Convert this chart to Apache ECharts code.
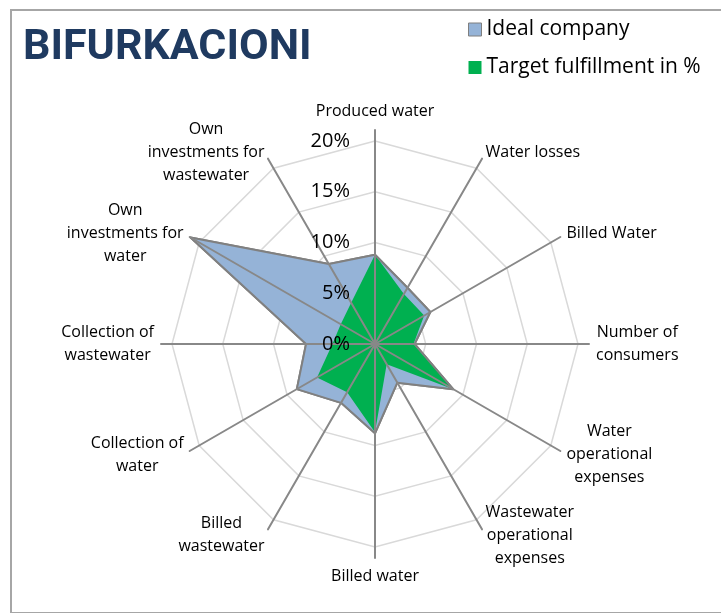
<!DOCTYPE html>
<html>
<head>
<meta charset="utf-8">
<title>BIFURKACIONI</title>
<script src="https://cdn.jsdelivr.net/npm/echarts@6/dist/echarts.min.js"></script>
<style>
    html, body { margin: 0; padding: 0; background: #fff; }
    #main { width: 721px; height: 613px; }
    /* chart area frame, as in the Excel export */
    #frame {
        position: absolute; left: 10px; top: 9px; width: 760px; height: 601px;
        border: 2px solid #a6a6a6; pointer-events: none;
    }
</style>
</head>
<body>
<div id="main"></div>
<div id="frame"></div>
<script>
// axes, clockwise from the top
var categories = ['Produced water', 'Water losses', 'Billed Water', 'Number of\nconsumers',
    'Water\noperational\nexpenses', 'Wastewater\noperational\nexpenses', 'Billed water',
    'Billed\nwastewater', 'Collection of\nwater', 'Collection of\nwastewater',
    'Own\ninvestments for\nwater', 'Own\ninvestments for\nwastewater'];
var idealCompany = [8.8, 6.4, 6.3, 3.9, 8.9, 4.4, 8.8, 6.7, 8.9, 6.8, 21.0, 9.1];
var targetFulfillment = [8.8, 5.7, 5.6, 3.8, 8.9, 2.3, 8.7, 5.5, 6.6, 4.2, 3.9, 4.7];
var ringMax = 20;     // 0% .. 20% grid rings
var spokeMax = 21.1;  // spokes run a bit past the last ring

var font = 'Open Sans';
var center = [375, 344];

// echarts lays indicators out counter-clockwise, so flip all but the first
function cw(arr) {
    return [arr[0]].concat(arr.slice(1).reverse());
}

var myChart = echarts.init(document.getElementById('main'));

var option = {
    animation: false,
    title: {
        text: 'BIFURKACIONI',
        left: 18,
        top: 22,
        textStyle: {
            color: '#1f3a60',
            fontFamily: 'Roboto',
            fontWeight: 'bold',
            fontSize: 43
        }
    },
    legend: {
        orient: 'vertical',
        left: 463,
        top: 14,
        itemWidth: 13,
        itemHeight: 13,
        itemGap: 17,
        icon: 'rect',
        textStyle: { color: '#000', fontFamily: font, fontSize: 21 },
        data: [
            { name: 'Ideal company', itemStyle: { color: '#95b3d7', borderColor: '#7f7f7f', borderWidth: 1 } },
            { name: 'Target fulfillment in %', itemStyle: { color: '#00b050' } }
        ]
    },
    radar: [
        {
            // grid rings, under the fills
            center: center,
            radius: 203,
            shape: 'polygon',
            splitNumber: 4,
            z: 0,
            indicator: cw(categories).map(function (c) { return { name: c, min: 0, max: ringMax }; }),
            axisName: { show: false },
            axisLine: { show: false },
            splitArea: { show: false },
            splitLine: { lineStyle: { color: '#d9d9d9', width: 1.5 } }
        },
        {
            // spokes + category names, over the fills
            center: center,
            radius: 214,
            shape: 'polygon',
            z: 4,
            indicator: cw(categories).map(function (c) { return { name: c, min: 0, max: spokeMax }; }),
            axisNameGap: 7,
            axisName: {
                color: '#000',
                fontFamily: font,
                fontSize: 16,
                lineHeight: 23,
                formatter: function (name) {
                    return name.split('\n').map(function (s) { return '{c|' + s + '}'; }).join('\n');
                },
                rich: {
                    c: { align: 'center', color: '#000', fontFamily: font, fontSize: 16, lineHeight: 23 }
                }
            },
            axisLine: { lineStyle: { color: '#888888', width: 2 } },
            splitLine: { show: false },
            splitArea: { show: false }
        },
        {
            // percent labels along the top spoke
            center: center,
            radius: 203,
            shape: 'polygon',
            splitNumber: 4,
            z: 5,
            indicator: cw(categories).map(function (c, i) {
                var ind = { name: c, min: 0, max: ringMax };
                if (i === 0) {
                    ind.axisLabel = {
                        show: true,
                        formatter: '{value}%',
                        color: '#000',
                        fontFamily: font,
                        fontSize: 20,
                        margin: 25
                    };
                }
                return ind;
            }),
            axisName: { show: false },
            axisLine: { show: false },
            splitLine: { show: false },
            splitArea: { show: false },
            axisLabel: { show: false }
        }
    ],
    series: [
        {
            name: 'Ideal company',
            type: 'radar',
            radarIndex: 1,
            symbol: 'none',
            itemStyle: { color: '#95b3d7' },
            lineStyle: { color: '#808080', width: 2 },
            areaStyle: { color: '#95b3d7', opacity: 1 },
            data: [{ value: cw(idealCompany), name: 'Ideal company' }]
        },
        {
            name: 'Target fulfillment in %',
            type: 'radar',
            radarIndex: 1,
            symbol: 'none',
            itemStyle: { color: '#00b050' },
            lineStyle: { width: 0, opacity: 0 },
            areaStyle: { color: '#00b050', opacity: 1 },
            data: [{ value: cw(targetFulfillment), name: 'Target fulfillment in %' }]
        },
        {
            // outline of the ideal company drawn again above the green
            name: 'outline',
            type: 'radar',
            radarIndex: 1,
            z: 3,
            symbol: 'none',
            silent: true,
            lineStyle: { color: '#808080', width: 2 },
            data: [{ value: cw(idealCompany), name: 'outline' }]
        }
    ]
};

myChart.setOption(option);
window.onresize = myChart.resize;
</script>
</body>
</html>
